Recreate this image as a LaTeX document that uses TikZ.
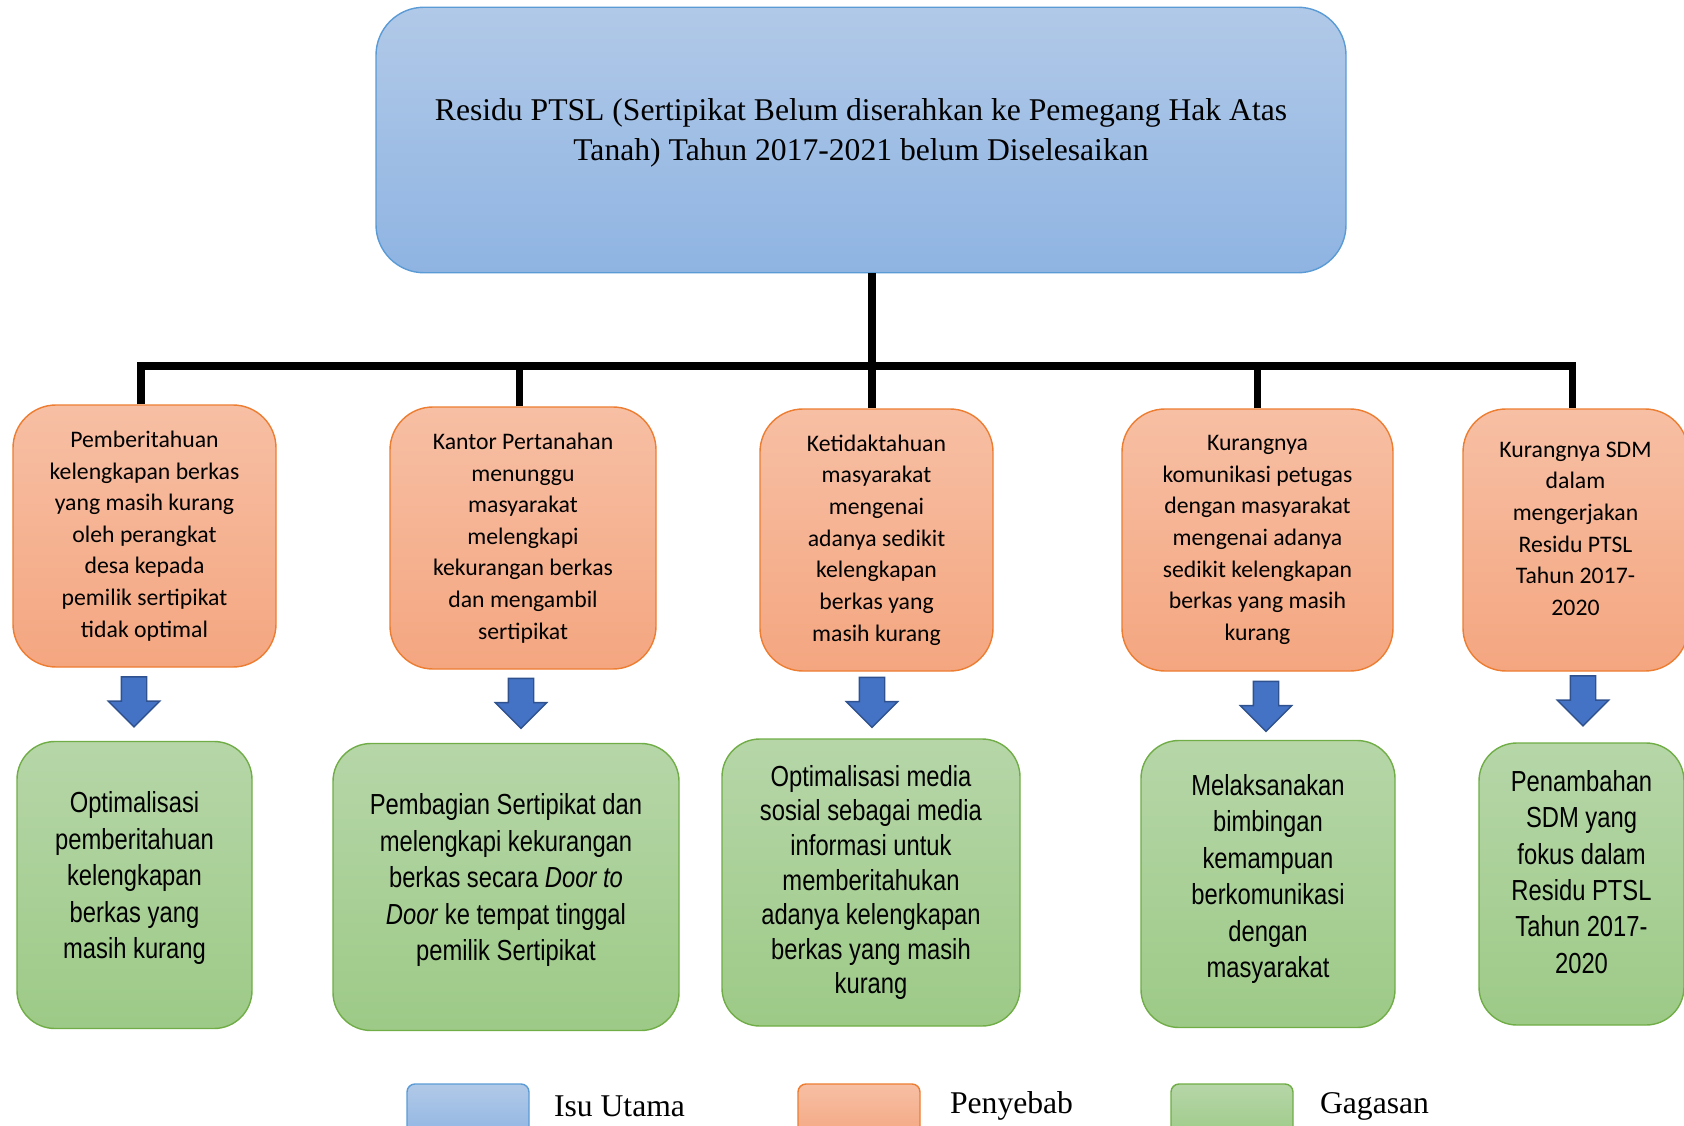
\documentclass[tikz,border=0pt]{standalone}
\usepackage{fontspec}
\usepackage{tikz}
\usetikzlibrary{positioning, shapes.arrows}
\setmainfont{Liberation Serif}
\newfontfamily\sebabfont{Carlito}
\newfontfamily\gagasanfont[FakeStretch=0.82]{Liberation Sans}
\definecolor{biruA}{RGB}{177, 201, 232}
\definecolor{biruB}{RGB}{143, 180, 226}
\definecolor{biruT}{RGB}{91, 155, 213}
\definecolor{jinggaA}{RGB}{247, 191, 164}
\definecolor{jinggaB}{RGB}{244, 166, 128}
\definecolor{jinggaT}{RGB}{237, 125, 49}
\definecolor{hijauA}{RGB}{182, 214, 168}
\definecolor{hijauB}{RGB}{157, 202, 135}
\definecolor{hijauT}{RGB}{112, 173, 71}
\definecolor{panahA}{RGB}{68, 114, 196}
\definecolor{panahT}{RGB}{47, 82, 143}
\tikzset{
    isu/.style={draw=biruT, top color=biruA, bottom color=biruB, rounded corners=0.96cm, line width=0.8pt},
    sebab/.style={draw=jinggaT, top color=jinggaA, bottom color=jinggaB, rounded corners=0.86cm, line width=0.8pt, minimum height=5.24cm, align=center, font=\sebabfont\fontsize{13.5}{18}\selectfont},
    gagasan/.style={draw=hijauT, top color=hijauA, bottom color=hijauB, rounded corners=0.76cm, line width=0.8pt, minimum height=5.74cm, align=center, font=\gagasanfont\fontsize{16.5}{20.7}\selectfont},
    panah/.style={single arrow, shape border rotate=270, draw=panahT, fill=panahA, line width=0.8pt, minimum height=1cm, single arrow head extend=0.26cm, inner sep=0.24cm},
    leg/.style={rounded corners=0.16cm, line width=0.8pt, minimum width=2.44cm, minimum height=1.12cm},
    legtxt/.style={anchor=west, font=\fontsize{18}{22}\selectfont, inner sep=0pt},
    conn/.style={-, black, line width=4pt},
}
\begin{document}
\begin{tikzpicture}
    \useasboundingbox (0,0) rectangle (33.68,-22.52);

    % isu utama
    \node [isu, minimum width=19.4cm, minimum height=5.31cm] (top) at (17.22,-2.80) {};
    \node [align=center, font=\fontsize{18}{22.7}\selectfont] (toptxt) at (17.22,-2.65)
        {Residu PTSL (Sertipikat Belum diserahkan ke Pemegang Hak Atas\\Tanah) Tahun 2017-2021 belum Diselesaikan};

    % penyebab
    \node [sebab, minimum width=5.26cm] (c1) at (2.89,-10.72) {Pemberitahuan\\kelengkapan berkas\\yang masih kurang\\oleh perangkat\\desa kepada\\pemilik sertipikat\\tidak optimal};
    \node [sebab, minimum width=5.32cm] (c2) at (10.46,-10.76) {Kantor Pertanahan\\menunggu\\masyarakat\\melengkapi\\kekurangan berkas\\dan mengambil\\sertipikat};
    \node [sebab, minimum width=4.66cm] (c3) at (17.53,-10.80) {Ketidaktahuan\\masyarakat\\mengenai\\adanya sedikit\\kelengkapan\\berkas yang\\masih kurang};
    \node [sebab, minimum width=5.42cm] (c4) at (25.15,-10.80) {Kurangnya\\komunikasi petugas\\dengan masyarakat\\mengenai adanya\\sedikit kelengkapan\\berkas yang masih\\kurang};
    \node [sebab, minimum width=4.50cm] (c5) at (31.51,-10.80) {Kurangnya SDM\\dalam\\mengerjakan\\Residu PTSL\\Tahun 2017-\\2020\\[-5pt]};

    % gagasan
    \node [gagasan, minimum width=4.70cm] (g1) at (2.69,-17.70) {Optimalisasi\\pemberitahuan\\kelengkapan\\berkas yang\\masih kurang\\[-9.5pt]};
    \node [gagasan, minimum width=6.92cm] (g2) at (10.12,-17.74) {Pembagian Sertipikat dan\\melengkapi kekurangan\\berkas secara \textit{Door to}\\\textit{Door} ke tempat tinggal\\pemilik Sertipikat\\[-9.5pt]};
    \node [gagasan, minimum width=5.96cm, font=\gagasanfont\fontsize{16.5}{19.7}\selectfont] (g3) at (17.42,-17.65) {Optimalisasi media\\sosial sebagai media\\informasi untuk\\memberitahukan\\adanya kelengkapan\\berkas yang masih\\kurang};
    \node [gagasan, minimum width=5.08cm] (g4) at (25.36,-17.68) {Melaksanakan\\bimbingan\\kemampuan\\berkomunikasi\\dengan\\masyarakat\\[-11.6pt]};
    \node [gagasan, minimum width=4.10cm, minimum height=5.64cm] (g5) at (31.63,-17.68) {Penambahan\\SDM yang\\fokus dalam\\Residu PTSL\\Tahun 2017-\\2020\\[-6.7pt]};

    % panah
    \node [panah] (p1) at (2.68,-13.91) {};
    \node [panah] (p2) at (10.42,-13.94) {};
    \node [panah] (p3) at (17.44,-13.92) {};
    \node [panah] (p4) at (25.32,-14.00) {};
    \node [panah] (p5) at (31.66,-13.89) {};

    % garis
    \coordinate (bar) at (0,-7.32);
    \draw [conn] ([xshift=-0.09cm]c3.north |- top.south) -- ([xshift=-0.09cm]c3.north);
    \draw [conn] ([xshift=-0.07cm]c1.north) -- ([xshift=-0.07cm]c1.north |- bar) -- ([xshift=-0.07cm]c5.north |- bar) -- ([xshift=-0.07cm]c5.north);
    \draw [conn] ([xshift=-0.07cm]c2.north) -- ([xshift=-0.07cm]c2.north |- bar);
    \draw [conn] (c4.north) -- (c4.north |- bar);

    % keterangan
    \node [leg, isu, rounded corners=0.16cm] (l1) at (9.36,-22.24) {};
    \node [legtxt, right=0.48cm of l1.east, yshift=0.12cm, anchor=west] (l1t) {Isu Utama};
    \node [leg, sebab, rounded corners=0.16cm, minimum width=2.44cm, minimum height=1.12cm] (l2) at (17.18,-22.24) {};
    \node [legtxt, right=0.58cm of l2.east, yshift=0.12cm, anchor=west] (l2t) {Penyebab};
    \node [leg, gagasan, rounded corners=0.16cm, minimum width=2.44cm, minimum height=1.12cm] (l3) at (24.64,-22.24) {};
    \node [legtxt, right=0.52cm of l3.east, yshift=0.12cm, anchor=west] (l3t) {Gagasan};
\end{tikzpicture}
\end{document}
